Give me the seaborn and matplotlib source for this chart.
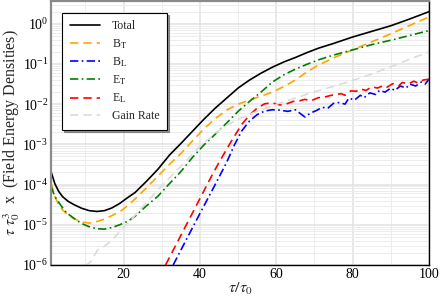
import numpy as np
import pandas as pd
import matplotlib
matplotlib.use('Agg')
import matplotlib.pyplot as plt
from matplotlib.ticker import LogLocator, NullFormatter
import seaborn as sns

# values (log10 of tau*tau0^3 x energy density)
t_total = [1, 2, 3, 4, 5.5, 7, 9, 11, 13, 15, 17, 19, 21, 23, 26, 29, 32, 35, 38, 41, 44, 47,
           50, 53, 56, 59, 62, 65, 68, 71, 75, 80, 85, 90, 95, 100]
log_total = [-3.68, -3.98, -4.17, -4.3, -4.42, -4.5, -4.59, -4.65, -4.67, -4.65, -4.58, -4.47,
             -4.33, -4.2, -3.92, -3.62, -3.27, -2.98, -2.68, -2.38, -2.1, -1.85, -1.6, -1.4,
             -1.23, -1.08, -0.95, -0.84, -0.72, -0.61, -0.49, -0.33, -0.19, -0.05, 0.12, 0.3]

t_bt = [1, 2, 3, 4, 5.5, 7, 9, 11, 13, 15, 17, 19, 21, 23, 26, 29, 32, 35, 38, 41, 44, 47,
        50, 53, 56, 59, 62, 65, 68, 71, 75, 80, 85, 90, 95, 100]
log_bt = [-3.97, -4.3, -4.5, -4.63, -4.76, -4.85, -4.93, -4.96, -4.92, -4.86, -4.77, -4.68,
          -4.53, -4.36, -4.08, -3.79, -3.5, -3.23, -2.92, -2.62, -2.36, -2.15, -2.0, -1.9,
          -1.8, -1.7, -1.56, -1.4, -1.2, -1.03, -0.85, -0.65, -0.45, -0.25, -0.04, 0.17]

t_et = [1, 2, 3.5, 5, 7, 9, 11, 13, 15, 17, 19, 21, 23, 26, 29, 32, 35, 38, 41, 44, 47, 50,
        53, 56, 59, 62, 65, 68, 71, 75, 80, 85, 90, 95, 100]
log_et = [-4.05, -4.3, -4.51, -4.7, -4.84, -4.97, -5.05, -5.1, -5.11, -5.07, -5.0, -4.92,
          -4.79, -4.53, -4.29, -3.98, -3.68, -3.33, -3.02, -2.75, -2.47, -2.18, -1.93, -1.7,
          -1.45, -1.27, -1.13, -1.01, -0.9, -0.78, -0.65, -0.52, -0.41, -0.29, -0.17]

t_el = [31, 34, 37, 40, 43, 45, 47, 49, 51, 53, 55, 57, 59, 61, 62.5, 64.5, 66, 67.5, 69, 71,
        72.5, 74, 75.5, 77, 78, 79.5, 81, 82, 83.5, 85, 86.5, 88, 89, 90.5, 92, 93, 94.5, 96,
        97, 98.5, 100]
log_el = [-6.0, -5.45, -4.9, -4.35, -3.8, -3.45, -3.12, -2.8, -2.5, -2.27, -2.1, -1.99, -1.97,
          -2.02, -2.0, -1.93, -1.92, -1.88, -1.92, -1.84, -1.83, -1.79, -1.76, -1.74, -1.78,
          -1.67, -1.68, -1.62, -1.66, -1.57, -1.6, -1.54, -1.58, -1.49, -1.55, -1.46, -1.5,
          -1.43, -1.47, -1.4, -1.38]

t_bl = [33, 36, 40, 44, 47, 49, 51, 53, 55, 57, 59, 61, 63, 65, 66.5, 67.5, 69, 70.5, 72,
        73.5, 75, 76.5, 78, 79, 80.5, 82, 83, 84.5, 86, 87, 88.5, 90, 91, 92.5, 94, 95, 96.5,
        98, 99, 100]
log_bl = [-6.0, -5.45, -4.72, -4.0, -3.45, -3.02, -2.66, -2.42, -2.26, -2.17, -2.14, -2.15,
          -2.18, -2.14, -2.25, -2.32, -2.22, -2.16, -2.08, -2.1, -1.98, -1.96, -2.0, -1.85,
          -1.9, -1.78, -1.84, -1.72, -1.76, -1.66, -1.7, -1.6, -1.66, -1.55, -1.6, -1.5,
          -1.55, -1.45, -1.5, -1.38]

t_gain = [10, 11.4, 13.2, 14.9, 17.1, 19.3, 22, 25.4, 29, 32.4, 36, 40, 43.4, 46, 49.7, 54.9,
          61, 65, 68.4, 72, 76, 80, 85, 90, 95, 100]
log_gain = [-6.02, -5.92, -5.63, -5.54, -5.38, -5.13, -4.87, -4.51, -4.13, -3.8, -3.45, -3.05,
            -2.78, -2.58, -2.39, -2.18, -1.97, -1.85, -1.74, -1.64, -1.53, -1.41, -1.25, -1.07,
            -0.88, -0.7]

x_ticks = [20, 40, 60, 80, 100]
x_minor = [10, 30, 50, 70, 90]
y_ticks = [1e-6, 1e-5, 1e-4, 1e-3, 1e-2, 1e-1, 1e0]

series = [
    ('Total', t_total, log_total, 'black', '-'),
    (r'B$_\mathrm{T}$', t_bt, log_bt, 'orange', (0, (5, 3))),
    (r'B$_\mathrm{L}$', t_bl, log_bl, 'blue', (0, (5, 2, 1, 2))),
    (r'E$_\mathrm{T}$', t_et, log_et, 'green', (0, (5, 2, 1, 2))),
    (r'E$_\mathrm{L}$', t_el, log_el, 'red', (0, (5, 3))),
    ('Gain Rate', t_gain, log_gain, '#dcdcdc', (0, (5, 3))),
]

sns.set_style('whitegrid')
plt.rcParams['font.family'] = ['Liberation Serif', 'DejaVu Serif']
plt.rcParams['mathtext.fontset'] = 'stix'

fig = plt.figure(figsize=(4.4, 2.99), dpi=100)
ax = fig.add_axes([0.116, 0.114, 0.859, 0.883])

for name, t, lv, col, ls in series:
    df = pd.DataFrame({'t': t, 'e': 10.0 ** np.array(lv)})
    sns.lineplot(data=df, x='t', y='e', ax=ax, color=col, linestyle=ls,
                 linewidth=1.2, label=name, legend=False)

ax.set_yscale('log')
ax.set_xlim(1, 100)
ax.set_ylim(1e-6, 3.7)
ax.set_xticks(x_ticks)
ax.set_xticks(x_minor, minor=True)
ax.set_yticks(y_ticks)
ax.yaxis.set_minor_locator(LogLocator(base=10, subs=np.arange(2, 10), numticks=20))
ax.yaxis.set_minor_formatter(NullFormatter())

ax.grid(True, which='major', color='#e4e4e4', linewidth=1.2)
ax.grid(True, which='minor', color='#ececec', linewidth=0.7)
ax.tick_params(axis='both', which='both', length=0, labelsize=10, pad=2, colors='black')

ax.set_xlabel(r'$\tau/\tau_0$', fontsize=11.5, labelpad=0)
ax.set_ylabel(r'$\tau\ \tau_0^3$  x  (Field Energy Densities)', fontsize=11.5, labelpad=0)

for side in ['top', 'left']:
    ax.spines[side].set_color('#8a8a8a')
    ax.spines[side].set_linewidth(1.6)
for side in ['bottom', 'right']:
    ax.spines[side].set_color('black')
    ax.spines[side].set_linewidth(1.0)

leg = ax.legend(loc='upper left', bbox_to_anchor=(0.029, 0.955), borderaxespad=0,
                fontsize=8.5, frameon=True, fancybox=False,
                shadow={'ox': 1.5, 'oy': -1.5, 'color': '#555555', 'alpha': 0.6},
                handlelength=2.55, labelspacing=0.4, borderpad=0.65, handletextpad=1.0)
leg.get_frame().set_edgecolor('black')
leg.get_frame().set_linewidth(0.8)

fig.savefig('out.png', dpi=100)
